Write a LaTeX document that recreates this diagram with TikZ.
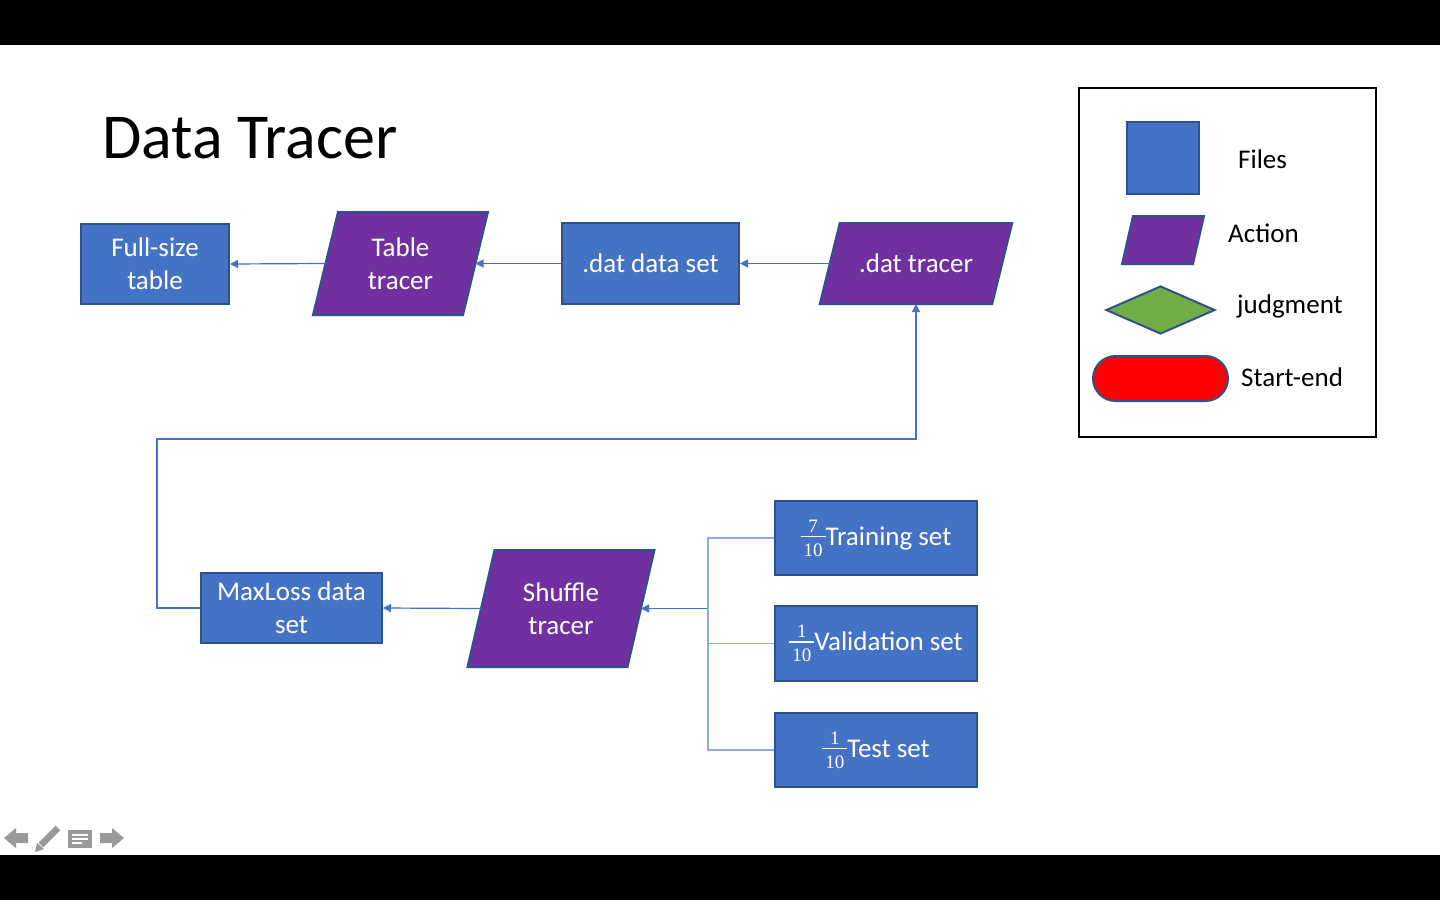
\documentclass[tikz,border=0pt]{standalone}
\usepackage[no-math]{fontspec}
\setmainfont{Carlito}
\newfontfamily\fracfont{Liberation Serif}
\usetikzlibrary{arrows.meta,shapes.geometric}
\pgfdeclarelayer{back}
\pgfdeclarelayer{bg}
\pgfsetlayers{back,bg,main}
\definecolor{fileblue}{HTML}{4472C4}
\definecolor{edgeblue}{HTML}{2F528F}
\definecolor{actpurple}{HTML}{7030A0}
\definecolor{judggreen}{HTML}{70AD47}
\definecolor{linkblue}{HTML}{4472C4}
\definecolor{lightlink}{HTML}{8FAADC}
\definecolor{icongray}{HTML}{999999}
\newcommand\actshape[2]{%
  \begin{pgfonlayer}{bg}
  \filldraw[actfill] ([xshift=#2pt]#1.north west) -- ([xshift=#2pt]#1.north east)
    -- ([xshift=-#2pt]#1.south east) -- ([xshift=-#2pt]#1.south west) -- cycle;
  \end{pgfonlayer}}
\newcommand\frc[2]{\raisebox{-11pt}{\vbox{\fracfont\fontsize{19}{19}\selectfont
  \hbox to 25pt{\hss#1\hss}\kern3.5pt\hrule height 1.6pt\kern6pt
  \hbox to 25pt{\hss#2\hss}}}}
\begin{document}
\begin{tikzpicture}[x=1pt,y=-1pt,
  txt/.style={font=\fontsize{27}{33}\selectfont, text=white, align=center, inner sep=0pt},
  filebox/.style={txt, draw=edgeblue, fill=fileblue, line width=2pt},
  actbox/.style={txt, outer sep=0pt},
  actfill/.style={draw=edgeblue, fill=actpurple, line width=2pt},
  conn/.style={draw=linkblue, line width=1.2pt, -{Triangle[length=8pt,width=8pt]}},
  link/.style={draw=lightlink, line width=1.4pt},
  legtxt/.style={font=\fontsize{27}{30}\selectfont, anchor=base west, inner sep=0pt}
]
\useasboundingbox (0,0) rectangle (1440,900);
\begin{pgfonlayer}{back}
\fill[white] (0,45) rectangle (1440,855);
\fill[black] (0,0) rectangle (1440,45);
\fill[black] (0,855) rectangle (1440,900);
\end{pgfonlayer}

% title
\node[anchor=base west, inner sep=0pt, font=\fontsize{64}{68}\selectfont] (title) at (102,158) {Data Tracer};

% top row
\node[filebox, minimum width=148, minimum height=80] (fs) at (155,264) {Full-size\\table};
\node[actbox, minimum width=150, minimum height=103] (tt) at (400.5,263.5) {Table\\tracer};
\actshape{tt}{12.5}
\node[filebox, minimum width=177, minimum height=81] (ds) at (650.5,263.5) {.dat data set};
\node[actbox, minimum width=172.5, minimum height=81] (dt) at (916,263.5) {.dat tracer};
\actshape{dt}{10}

% bottom row
\node[filebox, minimum width=181, minimum height=70] (ml) at (291.5,608) {MaxLoss data\\set};
\node[actbox, minimum width=160, minimum height=117] (sh) at (561,608.5) {Shuffle\\tracer};
\actshape{sh}{13.5}
\node[filebox, minimum width=202, minimum height=74] (tr) at (876,538) {\frc{7}{10}Training set};
\node[filebox, minimum width=202, minimum height=75] (va) at (876,643.5) {\frc{1}{10}Validation set};
\node[filebox, minimum width=202, minimum height=74] (te) at (876,750) {\frc{1}{10}Test set};

% connectors
\draw[conn] (tt.west) -- (fs.east);
\draw[conn] (ds.west) -- (tt.east);
\draw[conn] (dt.west) -- (ds.east);
\coordinate (loopleft) at (157,439);
\draw[conn] (ml.west) -| (loopleft) -| (dt.south);
\draw[conn] (sh.west) -- (ml.east);
\coordinate (fork) at (708,608.5);
\draw[conn] (fork) -- (sh.east);
\draw[link] (tr.west) -| (fork);
\draw[link] (va.west) -| (fork);
\draw[link] (te.west) -| (fork);

% legend
\node[draw=black, line width=2pt, minimum width=297, minimum height=349, inner sep=0pt] (legend) at (1227.5,262.5) {};
\node[draw=edgeblue, fill=fileblue, line width=2pt, minimum width=72, minimum height=72, inner sep=0pt] (lgfile) at (1163,158) {};
\node[legtxt] (lgfiletxt) at (1238,168) {Files};
\node[actbox, minimum width=71, minimum height=48] (lgact) at (1163,240) {};
\actshape{lgact}{5.5}
\node[legtxt] (lgacttxt) at (1228,242) {Action};
\node[diamond, draw=edgeblue, fill=judggreen, line width=2pt, minimum width=109, minimum height=48, inner sep=0pt, aspect=2.27] (lgjudg) at (1160.5,310) {};
\node[legtxt] (lgjudgtxt) at (1237,313) {judgment};
\node[draw=edgeblue, fill=red, line width=2pt, rounded corners=22.5pt, minimum width=135, minimum height=45, inner sep=0pt] (lgse) at (1160.5,378.5) {};
\node[legtxt] (lgsetxt) at (1241,386) {Start-end};

% bottom-left toolbar icons
\fill[icongray] (4,838) -- (16,828) -- (16,833) -- (28,833) -- (28,843) -- (16,843) -- (16,848) -- cycle;
\draw[icongray, line width=6.5pt] (41,845) -- (58,828);
\fill[icongray] (35,852) -- (37,843) -- (44,849) -- cycle;
\fill[icongray] (68,830) rectangle (92,848);
\draw[white, line width=1.6pt] (72,835) -- (88,835) (72,839) -- (88,839) (72,843) -- (82,843);
\fill[icongray] (124,838) -- (112,828) -- (112,833) -- (100,833) -- (100,843) -- (112,843) -- (112,848) -- cycle;
\end{tikzpicture}
\end{document}
